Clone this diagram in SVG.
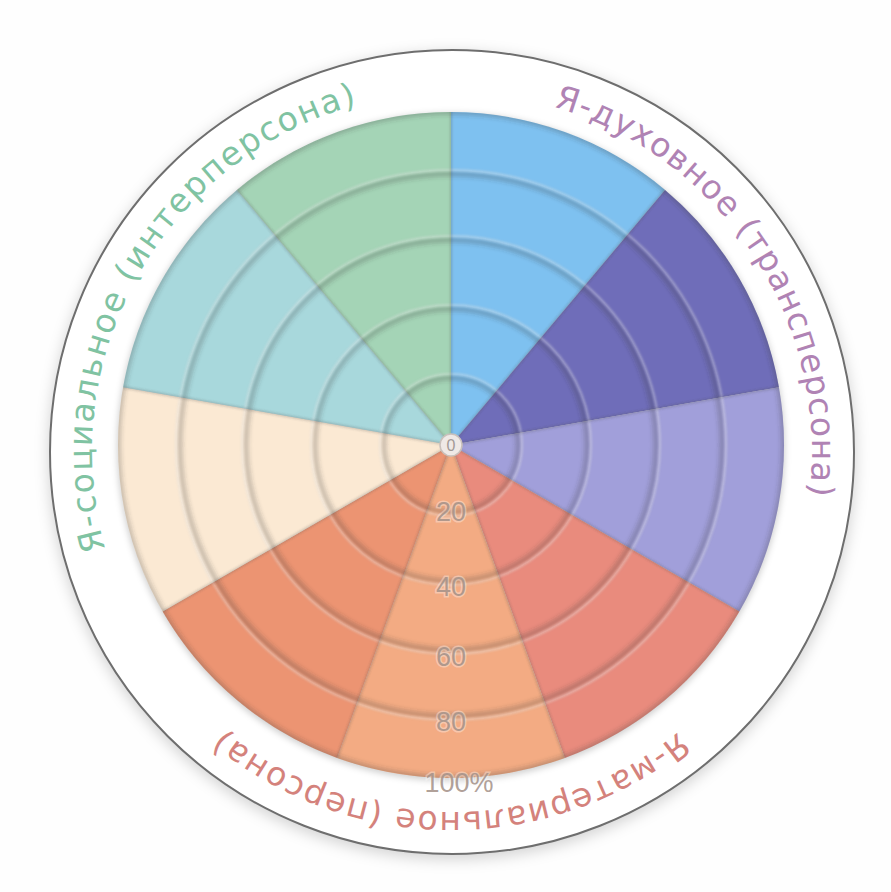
<svg xmlns="http://www.w3.org/2000/svg" width="891" height="892" viewBox="0 0 891 892">
<style>
  .lbl{font-family:"DejaVu Sans","Verdana",sans-serif;font-size:33px;}
  .scale{font-family:"Liberation Sans",Arial,sans-serif;font-size:27px;fill:#a39087;fill-opacity:0.85;stroke:#ffffff;stroke-opacity:0.35;stroke-width:3;paint-order:stroke;text-anchor:middle;}
  .sector{stroke:none;}
  .groove-dark{fill:none;stroke:#3a3a3a;stroke-opacity:0.27;stroke-width:5;}
  .groove-light{fill:none;stroke:#ffffff;stroke-opacity:0.4;stroke-width:2;}
  .spoke{stroke:#505050;stroke-opacity:0.25;stroke-width:2.5;}
</style>
<defs>
  <filter id="blur2" x="-10%" y="-10%" width="120%" height="120%"><feGaussianBlur stdDeviation="2"/></filter>
  <filter id="blur1" x="-10%" y="-10%" width="120%" height="120%"><feGaussianBlur stdDeviation="1"/></filter>
  <filter id="shadow" x="-20%" y="-20%" width="140%" height="140%"><feGaussianBlur stdDeviation="7"/></filter>
  <filter id="shadowS" x="-20%" y="-20%" width="140%" height="140%"><feGaussianBlur stdDeviation="3"/></filter>
  <clipPath id="pieClip"><circle cx="451" cy="445" r="333"/></clipPath>
  <path id="tp" d="M452,92 A360,360 0 0,1 452,812 A360,360 0 0,1 452,92"/>
</defs>

<rect width="891" height="892" fill="#fefefe"/>

<g id="ring">
  <circle cx="452" cy="456" r="404" fill="#000" fill-opacity="0.16" filter="url(#shadow)"/>
  <circle cx="452" cy="452" r="402" fill="#ffffff" stroke="#6e6e6e" stroke-width="2"/>
</g>

<g id="pie">
  <circle cx="451" cy="447" r="334" fill="#000" fill-opacity="0.18" filter="url(#shadowS)"/>
  <g id="sector-blue"><path class="sector" fill="#7EC1F0" d="M451,445 L451,112 A333,333 0 0,1 665.05,189.91 Z"/></g>
  <g id="sector-darkpurple"><path class="sector" fill="#6F6DB9" d="M451,445 L665.05,189.91 A333,333 0 0,1 778.94,387.18 Z"/></g>
  <g id="sector-lightpurple"><path class="sector" fill="#A19FDA" d="M451,445 L778.94,387.18 A333,333 0 0,1 739.39,611.5 Z"/></g>
  <g id="sector-salmon"><path class="sector" fill="#E98B7D" d="M451,445 L739.39,611.5 A333,333 0 0,1 564.89,757.92 Z"/></g>
  <g id="sector-peach"><path class="sector" fill="#F3AB83" d="M451,445 L564.89,757.92 A333,333 0 0,1 337.11,757.92 Z"/></g>
  <g id="sector-orange"><path class="sector" fill="#EC9472" d="M451,445 L337.11,757.92 A333,333 0 0,1 162.61,611.5 Z"/></g>
  <g id="sector-cream"><path class="sector" fill="#FBE9D3" d="M451,445 L162.61,611.5 A333,333 0 0,1 123.06,387.18 Z"/></g>
  <g id="sector-teal"><path class="sector" fill="#A8D8DC" d="M451,445 L123.06,387.18 A333,333 0 0,1 236.95,189.91 Z"/></g>
  <g id="sector-green"><path class="sector" fill="#A4D4B6" d="M451,445 L236.95,189.91 A333,333 0 0,1 451,112 Z"/></g>
</g>

<g id="grid" clip-path="url(#pieClip)">
  <g filter="url(#blur2)">
    <circle class="groove-dark" cx="451" cy="445" r="67"/>
    <circle class="groove-dark" cx="451" cy="445" r="136"/>
    <circle class="groove-dark" cx="451" cy="445" r="205"/>
    <circle class="groove-dark" cx="451" cy="445" r="271"/>
    <circle cx="451" cy="445" r="333" fill="none" stroke="#3a3a3a" stroke-opacity="0.25" stroke-width="6"/>
  </g>
  <g filter="url(#blur1)">
    <circle class="groove-light" cx="451" cy="445" r="71"/>
    <circle class="groove-light" cx="451" cy="445" r="140"/>
    <circle class="groove-light" cx="451" cy="445" r="209"/>
    <circle class="groove-light" cx="451" cy="445" r="275"/>
  </g>
  <g filter="url(#blur1)">
    <line class="spoke" x1="451" y1="445" x2="451" y2="112"/>
    <line class="spoke" x1="451" y1="445" x2="665.05" y2="189.91"/>
    <line class="spoke" x1="451" y1="445" x2="778.94" y2="387.18"/>
    <line class="spoke" x1="451" y1="445" x2="739.39" y2="611.5"/>
    <line class="spoke" x1="451" y1="445" x2="564.89" y2="757.92"/>
    <line class="spoke" x1="451" y1="445" x2="337.11" y2="757.92"/>
    <line class="spoke" x1="451" y1="445" x2="162.61" y2="611.5"/>
    <line class="spoke" x1="451" y1="445" x2="123.06" y2="387.18"/>
    <line class="spoke" x1="451" y1="445" x2="236.95" y2="189.91"/>
  </g>
</g>

<g id="center">
  <circle cx="451" cy="445" r="11" fill="#efe9e6" stroke="#c9c0bb" stroke-width="1.5"/>
  <text x="451" y="451" font-family="Liberation Sans, Arial, sans-serif" font-size="16" fill="#a39a96" text-anchor="middle">0</text>
</g>

<g id="scale-labels">
  <text class="scale" x="451" y="521">20</text>
  <text class="scale" x="451" y="596">40</text>
  <text class="scale" x="451" y="666">60</text>
  <text class="scale" x="451" y="731">80</text>
  <text class="scale" x="459" y="792">100%</text>
</g>

<g id="labels">
  <text class="lbl" fill="#B083B4"><textPath href="#tp" startOffset="103" textLength="506" lengthAdjust="spacing">Я-духовное (трансперсона)</textPath></text>
  <text class="lbl" fill="#D4827C"><textPath href="#tp" startOffset="885" textLength="493" lengthAdjust="spacing">Я-материальное (персона)</textPath></text>
  <text class="lbl" fill="#80C3A2"><textPath href="#tp" startOffset="1597" textLength="568" lengthAdjust="spacing">Я-социальное (интерперсона)</textPath></text>
</g>
</svg>
